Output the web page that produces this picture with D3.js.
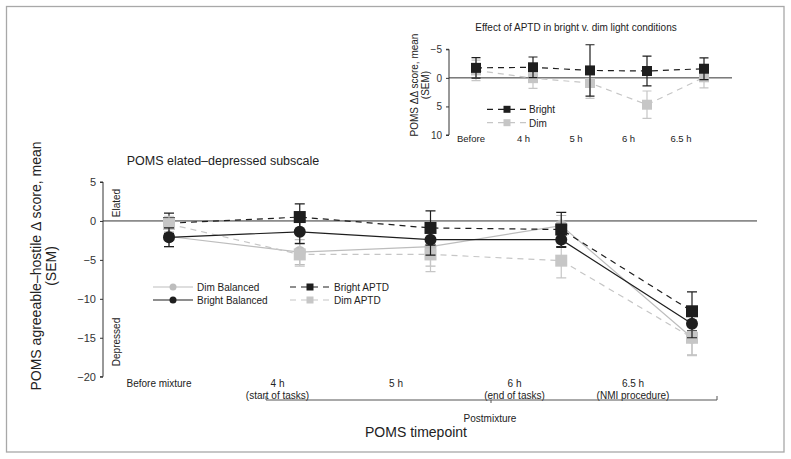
<!DOCTYPE html>
<html><head><meta charset="utf-8">
<script src="https://cdn.jsdelivr.net/npm/d3@7"></script>
<style>body{margin:0;background:#fff}svg{display:block;font-family:"Liberation Sans",Arial,sans-serif}</style>
</head><body><svg id="c" width="791" height="459"></svg>
<script>
// ---------- data ----------
const timepoints = ["Before mixture","4 h","5 h","6 h","6.5 h"];
const timeSub = ["","(start of tasks)","","(end of tasks)","(NMI procedure)"];
const dimBalanced = [-2.0,-4.0,-3.3,-0.6,-15.0];
const dimBalancedErr = [1.3,1.6,2.5,1.3,2.2];
const brightBalanced = [-2.1,-1.4,-2.4,-2.4,-13.2];
const brightBalancedErr = [1.2,1.5,2.0,1.0,1.8];
const brightAPTD = [-0.3,0.5,-0.9,-1.1,-11.6];
const brightAPTDErr = [1.3,1.7,2.2,2.2,2.5];
const dimAPTD = [-0.4,-4.3,-4.3,-5.1,-15.0];
const dimAPTDErr = [1.0,1.5,2.2,2.2,2.3];
const mainTicks = [5,0,-5,-10,-15,-20];

const insetCats = ["Before","4 h","5 h","6 h","6.5 h"];
const insetBright = [-1.75,-1.85,-1.3,-1.2,-1.6];
const insetBrightErr = [1.8,1.8,4.5,2.6,1.9];
const insetDim = [-1.3,0.05,0.9,4.7,-0.1];
const insetDimErr = [1.8,1.8,2.7,2.4,1.85];
const insetTicks = [-5,0,5,10];

const svg = d3.select("#c");
const BLACK = "#1e1e1e", GRAY = "#bdbdbd";

// border
svg.append("rect").attr("x",6.5).attr("y",6.5).attr("width",777.5).attr("height",445.5)
  .attr("fill","none").attr("stroke","#a8a8a8").attr("stroke-width",1.3);

// ---------- main chart ----------
const x = d3.scalePoint().domain(timepoints).range([169,692]);
const xLab = d3.scalePoint().domain(timepoints).range([159,633]);
const y = d3.scaleLinear().domain([-20,5]).range([376.7,182]);

const yAxis = svg.append("g").attr("transform","translate(103,0)")
  .call(d3.axisLeft(y).tickValues(mainTicks).tickSize(3).tickPadding(4).tickFormat(d3.format("d")));
yAxis.select(".domain").attr("stroke","#333").attr("d","M-3,"+y(5)+"H0V"+y(-20)+"H-3");
yAxis.selectAll(".tick line").attr("stroke","#333");
yAxis.selectAll(".tick text").attr("font-size",11).attr("fill","#333").attr("font-family","Liberation Sans, Arial, sans-serif");

svg.append("line").attr("x1",103).attr("x2",757).attr("y1",y(0)).attr("y2",y(0)).attr("stroke","#333").attr("stroke-width",1);

svg.append("text").attr("x",223).attr("y",165).attr("text-anchor","middle").attr("font-size",12.5).attr("fill","#222")
  .text("POMS elated\u2013depressed subscale");

const yt = svg.append("text").attr("transform","translate(41,266) rotate(-90)").attr("text-anchor","middle").attr("font-size",14).attr("fill","#222");
yt.append("tspan").attr("x",0).attr("dy",0).text("POMS agreeable\u2013hostile \u0394 score, mean");
yt.append("tspan").attr("x",0).attr("dy",15).text("(SEM)");

svg.append("text").attr("transform","translate(120,203) rotate(-90)").attr("text-anchor","middle").attr("font-size",10).attr("fill","#222").text("Elated");
svg.append("text").attr("transform","translate(120,342) rotate(-90)").attr("text-anchor","middle").attr("font-size",10).attr("fill","#222").text("Depressed");

// x labels
const xl = svg.append("g").selectAll("text").data(timepoints).join("text")
  .attr("x",d=>xLab(d)).attr("y",387).attr("text-anchor","middle").attr("font-size",10).attr("fill","#222");
xl.append("tspan").attr("x",d=>xLab(d)).text(d=>d);
xl.append("tspan").attr("x",d=>xLab(d)).attr("dy",11.5).text((d,i)=>timeSub[i]);

// bracket
svg.append("path").attr("d","M266,396V400H717V396M491,400V403").attr("fill","none").attr("stroke","#555").attr("stroke-width",1);
svg.append("text").attr("x",490).attr("y",422).attr("text-anchor","middle").attr("font-size",10).attr("fill","#222").text("Postmixture");
svg.append("text").attr("x",416).attr("y",437).attr("text-anchor","middle").attr("font-size",14).attr("fill","#222").text("POMS timepoint");

const mainSeries = [
  {name:"Dim Balanced", vals:dimBalanced, err:dimBalancedErr, color:GRAY, dash:null, shape:"circle"},
  {name:"Bright APTD", vals:brightAPTD, err:brightAPTDErr, color:BLACK, dash:"6,5", shape:"square"},
  {name:"Dim APTD", vals:dimAPTD, err:dimAPTDErr, color:"#c6c6c6", dash:"6,5", shape:"square"},
  {name:"Bright Balanced", vals:brightBalanced, err:brightBalancedErr, color:BLACK, dash:null, shape:"circle"}
];

function drawSeries(g, s, xs, ys, cats, size, r, cap){
  const line = d3.line().x((d,i)=>xs(cats[i])).y(d=>ys(d));
  g.append("path").datum(s.vals).attr("d",line).attr("fill","none").attr("stroke",s.color)
    .attr("stroke-width",1.2).attr("stroke-dasharray",s.dash);
  const eb = g.append("g");
  s.vals.forEach((v,i)=>{
    const cx = xs(cats[i]), y1 = ys(v+s.err[i]), y2 = ys(v-s.err[i]);
    eb.append("path").attr("d",`M${cx},${y1}V${y2}M${cx-cap},${y1}H${cx+cap}M${cx-cap},${y2}H${cx+cap}`)
      .attr("stroke",s.color).attr("stroke-width",1.2).attr("fill","none");
  });
  const m = g.append("g");
  s.vals.forEach((v,i)=>{
    const cx = xs(cats[i]), cy = ys(v);
    if(s.shape==="circle") m.append("circle").attr("cx",cx).attr("cy",cy).attr("r",r).attr("fill",s.color);
    else m.append("rect").attr("x",cx-size/2).attr("y",cy-size/2).attr("width",size).attr("height",size).attr("fill",s.color);
  });
}
const mg = svg.append("g");
mainSeries.forEach(s=>drawSeries(mg,s,x,y,timepoints,12,6,5));

// main legend
const legendItems = [
  {s:mainSeries[0], lx:153, ly:287},
  {s:mainSeries[3], lx:153, ly:300},
  {s:mainSeries[1], lx:290, ly:287},
  {s:mainSeries[2], lx:290, ly:300}
];
legendItems.forEach(({s,lx,ly})=>{
  svg.append("line").attr("x1",lx).attr("x2",lx+40).attr("y1",ly).attr("y2",ly).attr("stroke",s.color).attr("stroke-width",1.2).attr("stroke-dasharray",s.dash);
  if(s.shape==="circle") svg.append("circle").attr("cx",lx+20).attr("cy",ly).attr("r",3.5).attr("fill",s.color);
  else svg.append("rect").attr("x",lx+16.5).attr("y",ly-3.5).attr("width",7).attr("height",7).attr("fill",s.color);
  svg.append("text").attr("x",lx+44).attr("y",ly+4).attr("font-size",10).attr("fill","#222").text(s.name);
});

// ---------- inset ----------
const xi = d3.scalePoint().domain(insetCats).range([476,704]);
const xiLab = d3.scalePoint().domain(insetCats).range([471,681]);
const yi = d3.scaleLinear().domain([-5,10]).range([49.3,135]);

const yiAxis = svg.append("g").attr("transform","translate(449,0)")
  .call(d3.axisLeft(yi).tickValues(insetTicks).tickSize(3).tickPadding(4).tickFormat(d3.format("d")));
yiAxis.select(".domain").attr("stroke","#333").attr("d","M-3,"+yi(-5)+"H0V"+yi(10)+"H-3");
yiAxis.selectAll(".tick line").attr("stroke","#333");
yiAxis.selectAll(".tick text").attr("font-size",10).attr("fill","#333").attr("font-family","Liberation Sans, Arial, sans-serif");

svg.append("line").attr("x1",449).attr("x2",732).attr("y1",yi(0)).attr("y2",yi(0)).attr("stroke","#333").attr("stroke-width",1);

svg.append("text").attr("x",576).attr("y",31).attr("text-anchor","middle").attr("font-size",10).attr("fill","#222")
  .text("Effect of APTD in bright v. dim light conditions");
const yit = svg.append("text").attr("transform","translate(418,85) rotate(-90)").attr("text-anchor","middle").attr("font-size",10).attr("fill","#222");
yit.append("tspan").attr("x",0).text("POMS \u0394\u0394 score, mean");
yit.append("tspan").attr("x",0).attr("dy",11).text("(SEM)");

svg.append("g").selectAll("text").data(insetCats).join("text")
  .attr("x",d=>xiLab(d)).attr("y",142).attr("text-anchor","middle").attr("font-size",9.5).attr("fill","#222").text(d=>d);

const insetSeries = [
  {name:"Bright", vals:insetBright, err:insetBrightErr, color:BLACK, dash:"6,5", shape:"square"},
  {name:"Dim", vals:insetDim, err:insetDimErr, color:"#c6c6c6", dash:"6,5", shape:"square"}
];
const ig = svg.append("g");
[insetSeries[1], insetSeries[0]].forEach(s=>drawSeries(ig,s,xi,yi,insetCats,10,5,4.5));

insetSeries.forEach((s,k)=>{
  const lx=487, ly=109.3+k*13.4;
  svg.append("line").attr("x1",lx).attr("x2",lx+39).attr("y1",ly).attr("y2",ly).attr("stroke",s.color).attr("stroke-width",1.2).attr("stroke-dasharray","6,5");
  svg.append("rect").attr("x",lx+16.5).attr("y",ly-3.5).attr("width",7).attr("height",7).attr("fill",s.color);
  svg.append("text").attr("x",lx+42).attr("y",ly+4).attr("font-size",10).attr("fill","#222").text(s.name);
});
</script></body></html>
